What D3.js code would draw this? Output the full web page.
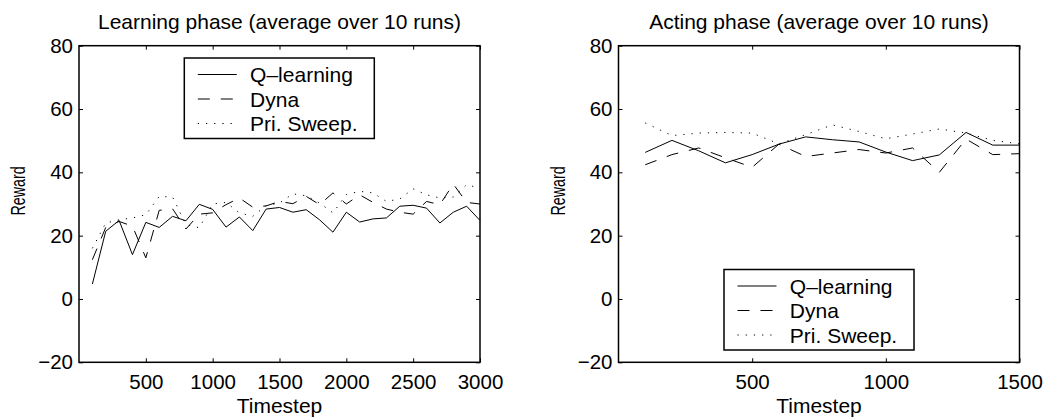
<!DOCTYPE html>
<html>
<head>
<meta charset="utf-8">
<script src="https://cdn.jsdelivr.net/npm/d3@7"></script>
<style>
  body { margin: 0; background: #fff; }
  text { font-family: "Liberation Sans", Arial, Helvetica, sans-serif; fill: #000; }
</style>
</head>
<body>
<div class="chart"></div>
<script>
// data
var seriesNames = ["Q\u2013learning", "Dyna", "Pri. Sweep."];

var learnSteps = [100, 200, 300, 400, 500, 600, 700, 800, 900, 1000,
  1100, 1200, 1300, 1400, 1500, 1600, 1700, 1800, 1900, 2000,
  2100, 2200, 2300, 2400, 2500, 2600, 2700, 2800, 2900, 3000];
var learnQ = [4.7, 21.4, 24.8, 14, 24.2, 22.6, 26.1, 24.7, 29.9, 28.3,
  22.7, 25.9, 21.6, 28.4, 28.9, 27.4, 28.2, 25, 21.1, 27.4,
  24.3, 25.3, 25.6, 29.3, 29.6, 28.7, 24, 27.4, 29.3, 24.8];
var learnDyna = [12.4, 22.6, 24.5, 23, 13, 28, 28.5, 22.1, 26.8, 27.2,
  29.8, 31.9, 29, 29.4, 30.8, 30.1, 32.4, 29.8, 33.5, 30,
  32.9, 30.5, 28.4, 27.4, 26.8, 30.8, 29.8, 36.3, 30.5, 30];
var learnSweep = [16, 24, 25, 25.6, 26.6, 32.4, 32.2, 23.5, 22.5, 30,
  30.5, 27.2, 26.1, 29.5, 30.3, 33.2, 32.6, 30.3, 27.2, 33,
  34, 33.5, 30.8, 31.6, 34.8, 32.9, 31.9, 32.2, 36.1, 35];

var actSteps = [100, 200, 300, 400, 500, 600, 700, 800, 900, 1000,
  1100, 1200, 1300, 1400, 1500];
var actQ = [46.3, 50.1, 46.8, 43, 45.6, 48.9, 51.2, 50.3, 49.6, 46.4,
  43.7, 45.5, 52.6, 48.6, 48.6];
var actDyna = [42.4, 45.6, 47.7, 44.6, 41.6, 48.9, 45, 46.1, 47.2, 46.1,
  47.7, 40, 50.5, 45.6, 45.9];
var actSweep = [55.6, 51.6, 52.4, 52.6, 52.4, 49, 51.9, 55, 52.9, 50.6,
  52.1, 53.7, 52.4, 50.1, 49];

var yTicks = [-20, 0, 20, 40, 60, 80];
var learnXTicks = [500, 1000, 1500, 2000, 2500, 3000];
var actXTicks = [500, 1000, 1500];

function init() {
  var w = 1045;
  var h = 417;
  var top = 45.7;
  var bottom = 362.3;
  var dashes = [null, "12,11", "1.2,7"];

  var svg = d3.select(".chart")
    .append("svg")
    .attr("width", w)
    .attr("height", h);

  function fmt(d) {
    return d < 0 ? "\u2212" + Math.abs(d) : String(d);
  }

  function drawPanel(p) {
    var xScale = d3.scaleLinear().domain(p.xDomain).range([p.left, p.right]);
    var yScale = d3.scaleLinear().domain([-20, 80]).range([bottom, top]);

    var g = svg.append("g");

    // lines
    var line = d3.line()
      .x(function(d) { return xScale(d[0]); })
      .y(function(d) { return yScale(d[1]); });

    p.series.forEach(function(vals, i) {
      var pts = p.steps.map(function(s, j) { return [s, vals[j]]; });
      g.append("path")
        .datum(pts)
        .attr("d", line)
        .attr("fill", "none")
        .attr("stroke", "#000")
        .attr("stroke-width", 1)
        .attr("stroke-dasharray", dashes[i]);
    });

    // axes, ticks point inwards on all four sides
    var bAxis = g.append("g")
      .attr("transform", "translate(0," + bottom + ")")
      .call(d3.axisBottom(xScale).tickValues(p.xTicks).tickSizeInner(-4).tickSizeOuter(0).tickPadding(12.5).tickFormat(fmt));
    var tAxis = g.append("g")
      .attr("transform", "translate(0," + top + ")")
      .call(d3.axisTop(xScale).tickValues(p.xTicks).tickSizeInner(-4).tickSizeOuter(0).tickFormat(""));
    var lAxis = g.append("g")
      .attr("transform", "translate(" + p.left + ",0)")
      .call(d3.axisLeft(yScale).tickValues(yTicks).tickSizeInner(-4).tickSizeOuter(0).tickPadding(6).tickFormat(fmt));
    var rAxis = g.append("g")
      .attr("transform", "translate(" + p.right + ",0)")
      .call(d3.axisRight(yScale).tickValues(yTicks).tickSizeInner(-4).tickSizeOuter(0).tickFormat(""));

    [bAxis, tAxis, lAxis, rAxis].forEach(function(a) {
      a.select(".domain").remove();
      a.selectAll("line").attr("stroke", "#000");
      a.selectAll("text")
        .attr("font-size", "20.5px")
        .attr("font-family", "Liberation Sans, Arial, sans-serif")
        .attr("fill", "#000");
    });

    g.append("rect")
      .attr("x", p.left)
      .attr("y", top)
      .attr("width", p.right - p.left)
      .attr("height", bottom - top)
      .attr("fill", "none")
      .attr("stroke", "#000")
      .attr("stroke-width", 1.5);

    // titles
    g.append("text")
      .attr("x", (p.left + p.right) / 2)
      .attr("y", 29.3)
      .attr("text-anchor", "middle")
      .attr("font-size", "21px")
      .text(p.title);

    g.append("text")
      .attr("x", (p.left + p.right) / 2)
      .attr("y", 413)
      .attr("text-anchor", "middle")
      .attr("font-size", "21px")
      .text("Timestep");

    // the y label is squeezed along its length in the reference
    g.append("text")
      .attr("transform", "translate(" + (p.left - 54) + ",191) rotate(-90) scale(0.68,1)")
      .attr("text-anchor", "middle")
      .attr("font-size", "21px")
      .text("Reward");

    // legend
    var legend = g.append("g")
      .attr("transform", "translate(" + p.legendX + "," + p.legendY + ")");

    legend.append("rect")
      .attr("width", 190)
      .attr("height", 80.5)
      .attr("fill", "#fff")
      .attr("stroke", "#000")
      .attr("stroke-width", 1.5);

    var item = legend.selectAll(".legend-item")
      .data(seriesNames)
      .enter().append("g")
      .attr("class", "legend-item")
      .attr("transform", function(d, i) {
        return "translate(0," + (16.5 + i * 24.5) + ")";
      });

    item.append("line")
      .attr("x1", 13.5)
      .attr("x2", 52.5)
      .attr("stroke", "#000")
      .attr("stroke-width", 1)
      .attr("stroke-dasharray", function(d, i) { return dashes[i]; });

    item.append("text")
      .attr("x", 65.8)
      .attr("y", 7.5)
      .attr("font-size", "21px")
      .text(function(d) { return d; });
  }

  drawPanel({
    left: 79, right: 480,
    xDomain: [0, 3000], xTicks: learnXTicks,
    steps: learnSteps, series: [learnQ, learnDyna, learnSweep],
    title: "Learning phase (average over 10 runs)",
    legendX: 184.3, legendY: 58
  });

  drawPanel({
    left: 618.5, right: 1019.5,
    xDomain: [0, 1500], xTicks: actXTicks,
    steps: actSteps, series: [actQ, actDyna, actSweep],
    title: "Acting phase (average over 10 runs)",
    legendX: 724, legendY: 269.5
  });
}

window.onload = init;
</script>
</body>
</html>
